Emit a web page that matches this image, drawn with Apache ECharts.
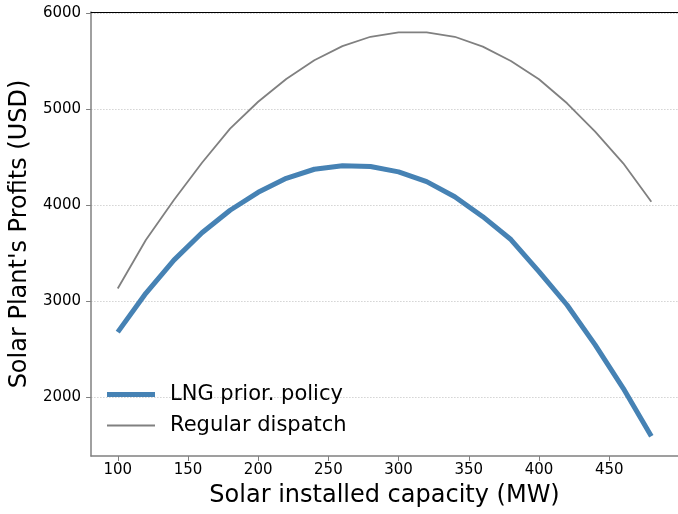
<!DOCTYPE html>
<html>
<head>
<meta charset="utf-8">
<script src="https://cdn.jsdelivr.net/npm/echarts@6/dist/echarts.min.js"></script>
<style>html,body{margin:0;padding:0;background:#fff;}#c{width:678px;height:514px;}</style>
</head>
<body>
<div id="c"></div>
<script>
const capacity = [100,120,140,160,180,200,220,240,260,280,300,320,340,360,380,400,420,440,460,480];
const lngPolicy = [2675,3080,3425,3710,3945,4132,4278,4372,4409,4400,4345,4243,4086,3878,3640,3305,2958,2542,2090,1590];
const regularDispatch = [3130,3635,4052,4440,4795,5075,5312,5508,5655,5752,5797,5797,5752,5649,5500,5309,5059,4764,4434,4034];
const xTicks = [100,150,200,250,300,350,400,450];
const yTicks = [2000,3000,4000,5000,6000];
const seriesNames = ['LNG prior. policy', 'Regular dispatch'];

const font = "'DejaVu Sans', sans-serif";
const chart = echarts.init(document.getElementById('c'), null, {renderer:'canvas'});
chart.setOption({
  animation: false,
  backgroundColor: '#fff',
  grid: {left: 91, top: 12, width: 594.7, height: 444, containLabel: false},
  legend: {
    left: 107, top: 384, orient: 'vertical', padding: 0,
    itemWidth: 48, itemHeight: 14, itemGap: 10,
    itemStyle: {borderWidth: 0},
    textStyle: {fontFamily: font, fontSize: 21, color: '#000', padding: [0,0,0,10]},
    data: [
      {name: seriesNames[0], icon: 'path://M0,0 H48 V5 H0 Z', itemStyle: {color: '#4682B4'}},
      {name: seriesNames[1], icon: 'path://M0,0 H48 V1.8 H0 Z', itemStyle: {color: '#808080'}}
    ]
  },
  xAxis: [{
    type: 'value', min: 81, max: 499, position: 'bottom',
    name: 'Solar installed capacity (MW)', nameLocation: 'middle', nameGap: 28,
    nameTextStyle: {fontFamily: font, fontSize: 24, color: '#000'},
    axisLine: {show: true, lineStyle: {color: '#808080', width: 1.5}},
    axisTick: {show: true, length: 5, lineStyle: {color: '#808080', width: 1}, customValues: xTicks},
    axisLabel: {fontFamily: font, fontSize: 15, color: '#000', margin: 7, customValues: xTicks,
      formatter: v => String(v)},
    splitLine: {show: false}
  }, {
    type: 'value', min: 81, max: 499, position: 'top',
    axisLine: {show: true, lineStyle: {color: '#000', width: 1}},
    axisTick: {show: false}, axisLabel: {show: false}, splitLine: {show: false}
  }],
  yAxis: {
    type: 'value', min: 1385, max: 6010,
    name: "Solar Plant's Profits (USD)", nameLocation: 'middle', nameGap: 51,
    nameTextStyle: {fontFamily: font, fontSize: 24, color: '#000'},
    axisLine: {show: true, lineStyle: {color: '#808080', width: 1.5}},
    axisTick: {show: true, length: 5, lineStyle: {color: '#808080', width: 1}, customValues: yTicks},
    axisLabel: {fontFamily: font, fontSize: 15, color: '#000', margin: 10, customValues: yTicks,
      formatter: v => String(v)},
    splitLine: {show: true, lineStyle: {color: '#c8c8c8', width: 0.8, type: [1.5, 1.5]}}
  },
  series: [{
    name: seriesNames[0], type: 'line', xAxisIndex: 0,
    data: capacity.map((x, i) => [x, lngPolicy[i]]),
    symbol: 'none', lineStyle: {color: '#4682B4', width: 5}, itemStyle: {color: '#4682B4'}, z: 3
  }, {
    name: seriesNames[1], type: 'line', xAxisIndex: 0,
    data: capacity.map((x, i) => [x, regularDispatch[i]]),
    symbol: 'none', lineStyle: {color: '#808080', width: 1.8}, itemStyle: {color: '#808080'}, z: 2
  }]
});
</script>
</body>
</html>
